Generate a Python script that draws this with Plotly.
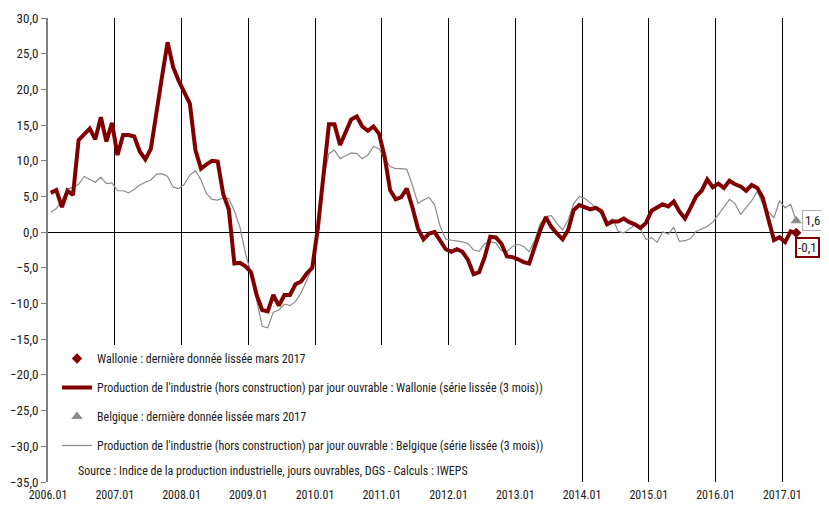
import plotly.graph_objects as go

# ---------------- data ----------------
start_year = 2006
months = [f"{start_year + i // 12}.{i % 12 + 1:02d}" for i in range(135)]  # 2006.01 .. 2017.03
year_labels = [f"{y}.01" for y in range(2006, 2018)]

wallonie = [
    5.5, 5.9, 3.5, 5.8, 5.2, 12.9, 13.7, 14.5, 13.0, 16.1, 12.7, 15.3,          # 2006
    10.8, 13.6, 13.6, 13.4, 11.3, 10.2, 11.7, 17.1, 21.8, 26.6, 23.1, 21.2,     # 2007
    19.6, 18.0, 11.5, 8.9, 9.5, 10.0, 9.9, 5.3, 3.2, -4.4, -4.3, -4.8,          # 2008
    -5.6, -8.8, -10.9, -11.1, -8.8, -10.3, -8.8, -8.8, -7.3, -6.9, -5.8, -5.0,  # 2009
    0.5, 8.0, 15.1, 15.1, 12.2, 14.0, 15.8, 16.2, 14.8, 14.2, 14.8, 13.8,       # 2010
    10.6, 5.9, 4.6, 4.9, 6.1, 3.5, 0.5, -1.0, -0.2, 0.0, -1.2, -2.4,            # 2011
    -2.75, -2.4, -2.75, -3.9, -5.9, -5.6, -3.5, -0.65, -0.75, -1.6, -3.4, -3.5, # 2012
    -3.8, -4.2, -4.4, -2.1, 0.3, 2.1, 0.7, -0.2, -1.0, 0.3, 3.1, 3.8,           # 2013
    3.5, 3.2, 3.4, 2.9, 1.1, 1.5, 1.5, 1.9, 1.4, 1.1, 0.6, 1.3,                 # 2014
    3.0, 3.5, 3.9, 3.6, 4.3, 2.9, 1.9, 3.4, 5.0, 5.8, 7.4, 6.3,                 # 2015
    6.8, 6.2, 7.2, 6.7, 6.4, 5.8, 6.6, 6.2, 4.8, 1.8, -1.1, -0.7,               # 2016
    -1.4, 0.1, -0.1,                                                            # 2017
]

belgique = [
    2.8, 3.3, 4.5, 6.0, 6.3, 6.7, 7.8, 7.4, 7.0, 7.7, 6.8, 6.9,                 # 2006
    5.8, 5.8, 5.5, 6.0, 6.6, 7.0, 7.3, 8.1, 8.2, 7.8, 6.3, 6.1,                 # 2007
    6.7, 8.0, 8.6, 7.3, 5.4, 4.6, 4.5, 4.8, 4.7, 3.0, 0.7, -3.0,                # 2008
    -5.8, -9.5, -13.2, -13.4, -11.2, -10.9, -10.1, -10.3, -9.7, -8.5, -6.8, -4.8,  # 2009
    0.5, 7.5, 11.0, 11.5, 10.3, 10.7, 11.1, 11.0, 10.3, 10.8, 12.0, 11.7,       # 2010
    10.3, 9.2, 8.9, 8.9, 8.8, 6.6, 4.0, 4.5, 4.9, 3.8, 0.8, -1.0,               # 2011
    -1.1, -1.2, -1.35, -1.6, -2.5, -2.7, -1.6, -1.35, -1.5, -2.6, -2.75, -2.0,  # 2012
    -1.7, -2.0, -2.75, -1.1, 1.2, 2.2, 2.3, 1.2, 0.3, 1.7, 4.0, 5.0,            # 2013
    4.7, 4.1, 3.4, 2.5, 1.3, 1.9, 0.1, -0.1, 0.4, 1.0, 0.4, -1.0,               # 2014
    -0.8, -1.4, 0.05, -0.3, 0.7, -1.3, -1.2, -0.9, 0.1, 0.5, 0.8, 1.4,          # 2015
    2.4, 3.5, 4.6, 4.0, 2.5, 3.5, 4.4, 5.7, 3.9, 2.9, 2.0, 4.4,                 # 2016
    3.4, 3.9, 1.6,                                                              # 2017
]

name_w_last = "Wallonie : dernière donnée lissée mars 2017"
name_w_line = "Production de l'industrie (hors construction) par jour ouvrable : Wallonie (série lissée (3 mois))"
name_b_last = "Belgique : dernière donnée lissée mars 2017"
name_b_line = "Production de l'industrie (hors construction) par jour ouvrable : Belgique (série lissée (3 mois))"
source_text = "Source : Indice de la production industrielle, jours ouvrables, DGS - Calculs : IWEPS"

# ---------------- styles ----------------
RED = "#800000"
GREY = "#8c8c8c"
FONT = "Liberation Sans Narrow, Arial Narrow, Roboto Condensed, sans-serif"

# category centres (Excel-like "between tick marks")
n = len(months)
xs = [i + 0.5 for i in range(n)]
last_x = xs[-1]

fig = go.Figure()

fig.add_trace(go.Scatter(
    x=xs, y=belgique, customdata=months, mode="lines", name=name_b_line,
    line=dict(color=GREY, width=1.2), legendrank=4, legendgroup="g4",
    hovertemplate="%{customdata}: %{y}<extra></extra>"))
fig.add_trace(go.Scatter(
    x=xs, y=wallonie, customdata=months, mode="lines", name=name_w_line,
    line=dict(color=RED, width=4), legendrank=2, legendgroup="g2",
    hovertemplate="%{customdata}: %{y}<extra></extra>"))
fig.add_trace(go.Scatter(
    x=[last_x], y=[belgique[-1]], mode="markers", name=name_b_last,
    marker=dict(symbol="triangle-up", color=GREY, size=10),
    legendrank=3, legendgroup="g3", cliponaxis=False))
fig.add_trace(go.Scatter(
    x=[last_x], y=[wallonie[-1]], mode="markers", name=name_w_last,
    marker=dict(symbol="diamond", color=RED, size=8),
    legendrank=1, legendgroup="g1", cliponaxis=False))

# The page body has an 8px default margin: offset the figure accordingly
OFF = 8
W, H = 829 - 2 * OFF, 505 - OFF
# plot area in window pixels: x 48 .. 799.4, y 18 .. 482
PL, PR, PT, PB = 48, 799.4, 18, 482
L, T = PL - OFF, PT - OFF
R = W - (PR - OFF)
B = H - (PB - OFF)
pw = PR - PL
ph = PB - PT


def px_x(px):
    return (px - PL) / pw


def px_y(py):
    return (PB - py) / ph


def fmt(v):
    return f"{v:.1f}".replace(".", ",")


fig.update_layout(
    width=W, height=H,
    margin=dict(l=L, r=R, t=T, b=B, autoexpand=False),
    paper_bgcolor="white", plot_bgcolor="white",
    separators=", ",
    font=dict(family=FONT, size=12, color="#1a1a1a"),
    showlegend=True,
    legend=dict(
        x=px_x(57), y=px_y(344), xanchor="left", yanchor="top",
        bgcolor="rgba(0,0,0,0)", borderwidth=0,
        traceorder="grouped", tracegroupgap=10,
        font=dict(family=FONT, size=12, color="#1a1a1a"),
    ),
    xaxis=dict(
        range=[0, n], automargin=False,
        tickmode="array",
        tickvals=[12 * k for k in range(len(year_labels))],
        ticktext=year_labels,
        showgrid=True, gridcolor="black", gridwidth=1,
        zeroline=False, showline=False, ticks="",
        ticklabelstandoff=4,
        tickfont=dict(family=FONT, size=12, color="#1a1a1a"),
    ),
    yaxis=dict(
        range=[-35, 30], dtick=5, tick0=0, tickformat=".1f", automargin=False,
        showgrid=False,
        zeroline=True, zerolinecolor="black", zerolinewidth=1,
        showline=True, linecolor="#808080", linewidth=2,
        ticks="outside", ticklen=5, tickcolor="#808080", tickwidth=1,
        tickfont=dict(family=FONT, size=13, color="#1a1a1a"),
    ),
    shapes=[
        dict(type="rect", xref="paper", yref="paper",
             x0=px_x(56), x1=px_x(576), y0=0, y1=px_y(345),
             fillcolor="white", line=dict(width=0), layer="above"),
    ],
    annotations=[
        dict(xref="paper", yref="paper", x=px_x(76), y=px_y(471),
             xanchor="left", yanchor="middle", showarrow=False,
             text=source_text, font=dict(family=FONT, size=12, color="#1a1a1a")),
        dict(xref="paper", yref="y", x=px_x(802), y=belgique[-1],
             xanchor="left", yanchor="middle", showarrow=False,
             text=fmt(belgique[-1]), font=dict(family=FONT, size=13, color="#1a1a1a"),
             bgcolor="white", bordercolor="#b0b0b0", borderwidth=1, borderpad=2),
        dict(xref="paper", yref="y", x=px_x(820), y=wallonie[-1] - 2.1,
             xanchor="right", yanchor="middle", showarrow=False,
             text=fmt(wallonie[-1]), font=dict(family=FONT, size=13, color="#1a1a1a"),
             bgcolor="white", bordercolor=RED, borderwidth=2, borderpad=1),
    ],
)

fig.write_html("out.html")
